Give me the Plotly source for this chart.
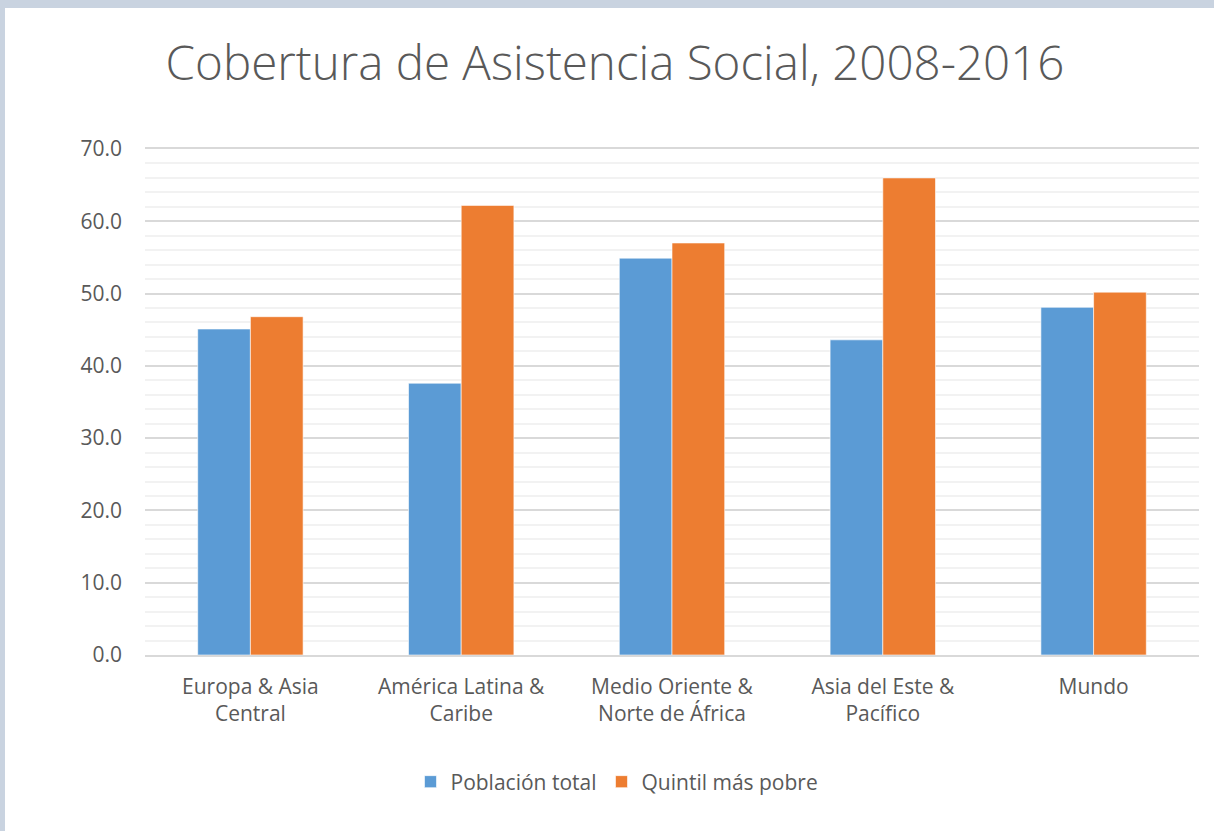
import plotly.graph_objects as go

categories = ["Europa & Asia<br>Central", "América Latina &<br>Caribe", "Medio Oriente &<br>Norte de África",
              "Asia del Este &<br>Pacífico", "Mundo"]
poblacion_total = [45.1, 37.6, 54.9, 43.6, 48.1]
quintil_mas_pobre = [46.8, 62.2, 57.0, 66.0, 50.2]
y_ticks = [0, 10, 20, 30, 40, 50, 60, 70]

W, H = 1214, 831
L, R, T, B = 145, 15, 149, 176
pw, ph = W - L - R, H - T - B

def px(x):
    return (x - L) / pw

def py(y):
    return (H - B - y) / ph

fig = go.Figure()
fig.add_bar(name="Población total", x=categories, y=poblacion_total,
            marker=dict(color="#5B9BD5", line=dict(color="#ffffff", width=0.6)))
fig.add_bar(name="Quintil más pobre", x=categories, y=quintil_mas_pobre,
            marker=dict(color="#ED7D31", line=dict(color="#ffffff", width=0.6)))

fig.add_shape(type="rect", xref="paper", yref="paper", layer="below",
              x0=px(5), x1=px(W + 5), y0=py(H + 5), y1=py(8),
              fillcolor="#ffffff", line=dict(width=0))

font_family = "Open Sans, Liberation Sans, sans-serif"
fig.update_layout(
    width=W, height=H,
    margin=dict(l=L, r=R, t=T, b=B, autoexpand=False),
    paper_bgcolor="#c9d3e0",
    plot_bgcolor="#ffffff",
    barmode="group", bargap=0.5, bargroupgap=0,
    font=dict(family=font_family, color="#595959", size=21),
    title=dict(text="Cobertura de Asistencia Social, 2008-2016",
               x=615 / W, xanchor="center", xref="container",
               y=1 - 63 / H, yanchor="middle", yref="container",
               font=dict(size=47.5, color="#595959", family=font_family, weight=300)),
    legend=dict(orientation="h", x=px(617), xanchor="center", y=py(782), yanchor="middle",
                font=dict(size=21, color="#595959"), itemwidth=30, traceorder="normal",
                bgcolor="rgba(0,0,0,0)"),
    showlegend=True,
)
fig.update_xaxes(showgrid=False, showline=True, mirror=True, linecolor="#d9d9d9", linewidth=1.5,
                 ticks="", tickfont=dict(size=21, color="#595959"), ticklabelstandoff=12,
                 fixedrange=True)
fig.update_yaxes(range=[0, 70], tickvals=y_ticks, tickformat=".1f",
                 showgrid=True, gridcolor="#d9d9d9", gridwidth=1.5,
                 minor=dict(dtick=2, showgrid=True, gridcolor="#f2f2f2", gridwidth=1.5),
                 zeroline=False, showline=False, ticks="",
                 tickfont=dict(size=21, color="#595959"), ticklabelstandoff=22,
                 fixedrange=True)

fig.write_html("out.html", config={"displayModeBar": False},
               post_script="document.body.style.margin='0';document.body.style.overflow='hidden';")
